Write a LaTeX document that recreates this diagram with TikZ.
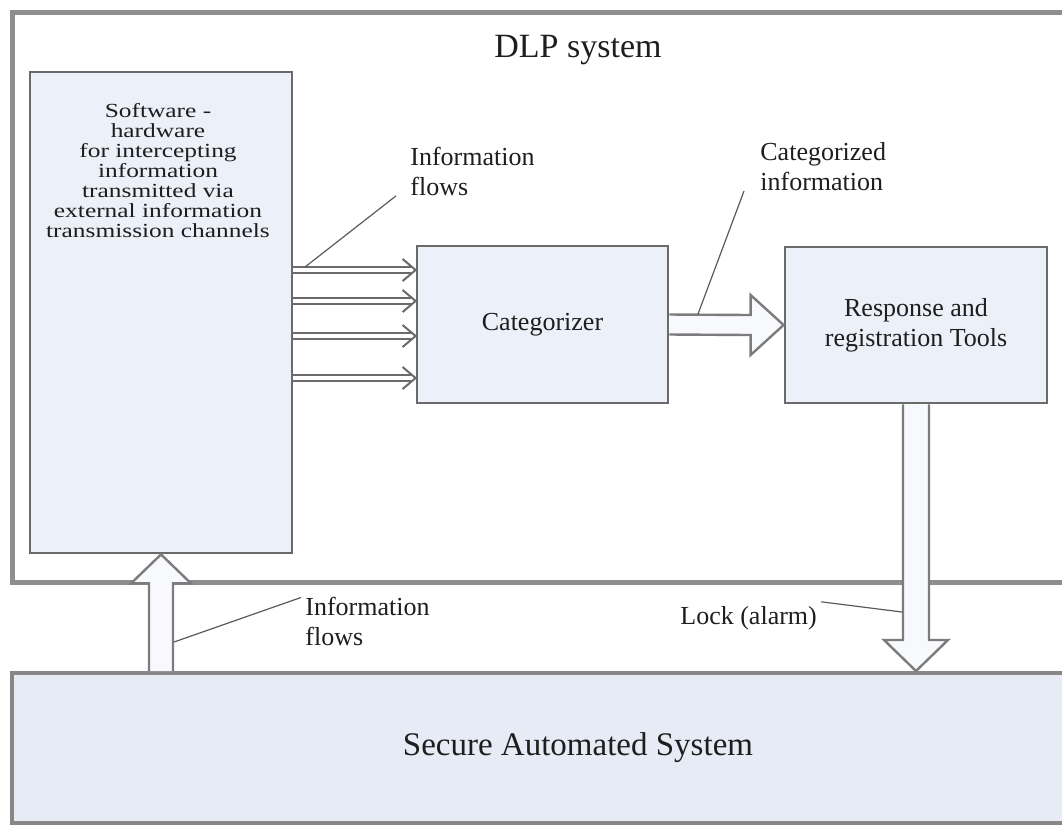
\documentclass[tikz,border=0pt]{standalone}
\usepackage{fontspec}
\setmainfont{Liberation Serif}
\newfontfamily\widefont[FakeStretch=1.27]{Liberation Serif}
\usetikzlibrary{calc}

\definecolor{framegray}{HTML}{8E8E8E}
\definecolor{boxgray}{HTML}{6A6A6A}
\definecolor{boxfill}{HTML}{ECF0F8}
\definecolor{securefill}{HTML}{E6EBF5}
\definecolor{arrowgray}{HTML}{7C7C7C}
\definecolor{leadgray}{HTML}{5A5A5A}
\definecolor{textgray}{HTML}{1E1E1E}

\tikzset{
  frame/.style={draw=framegray, line width=2.5pt, inner sep=0pt, text=textgray},
  block/.style={draw=boxgray, fill=boxfill, line width=1.4pt, inner sep=0pt,
    text=textgray, align=center, font=\fontsize{13}{15}\selectfont},
  flow/.style={draw=boxgray, double=white, double distance=2.3pt, line width=1pt},
  flowtip/.style={draw=boxgray, line width=1pt, line join=miter},
  bigflow/.style={draw=arrowgray, fill=white!60!boxfill, line width=1.2pt, line join=miter},
  leader/.style={draw=leadgray, line width=0.6pt},
  tag/.style={font=\fontsize{13}{15}\selectfont, text=textgray, align=left, inner sep=2pt},
}

\begin{document}
\begin{tikzpicture}[x=0.5pt, y=-0.5pt]

% Picture area, one unit is one pixel of the reference
\useasboundingbox (0,0) rectangle (1062,827);
\clip (0,0) rectangle (1062,827);

% Outer frames
\node[frame, minimum width=566pt, minimum height=285pt] (dlp) at (578,297) {};
\node[font=\fontsize{17}{20}\selectfont, text=textgray] (dlptitle) at (578,50) {DLP system};

\node[frame, draw=framegray!95!black, line width=2pt, fill=securefill,
      minimum width=566pt, minimum height=75pt, font=\fontsize{16.5}{20}\selectfont]
      (secure) at (578,748) {Secure Automated System};

% Blocks of the DLP system
\node[block, minimum width=131pt, minimum height=240.5pt] (intercept) at (161,312.5) {};
\node[font=\widefont\fontsize{10}{10}\selectfont, text=textgray, align=center, inner sep=0pt, anchor=north]
      (intercepttext) at (158,103)
      {Software -\\hardware\\for intercepting\\information\\transmitted via\\external information\\transmission channels};

\node[block, minimum width=125.5pt, minimum height=78.5pt] (categ) at (542.5,324.5) {Categorizer};
\node[block, minimum width=131pt, minimum height=78pt] (resp) at (916,325) {Response and\\registration Tools};

% Information flows into the categorizer (double lines with open heads)
\foreach \yy in {270,301,336,378}{
  \coordinate (flowtail) at (intercept.east |- 0,\yy);
  \coordinate (flowhead) at (categ.west |- 0,\yy);
  \draw[flow] (flowtail) -- ($(flowhead)+(-5,0)$);
  \draw[flowtip] ($(flowhead)+(-13,-11)$) -- (flowhead) -- ($(flowhead)+(-13,11)$);
}

% Categorized information
\draw[bigflow] ($(categ.east)+(0,-10)$) -- ($(resp.west)+(-33,-10)$) -- ($(resp.west)+(-33,-30)$)
  -- (resp.west) -- ($(resp.west)+(-33,30)$) -- ($(resp.west)+(-33,10)$) -- ($(categ.east)+(0,10)$);

% Lock (alarm)
\coordinate (locktip) at (resp.south |- secure.north);
\draw[bigflow] ($(resp.south)+(-13,0)$) -- ($(locktip)+(-13,-31)$) -- ($(locktip)+(-32,-31)$)
  -- (locktip) -- ($(locktip)+(32,-31)$) -- ($(locktip)+(13,-31)$) -- ($(resp.south)+(13,0)$);

% Information flows from the secure system
\coordinate (flowbase) at (intercept.south |- secure.north);
\draw[bigflow] ($(flowbase)+(-12,0)$) -- ($(intercept.south)+(-12,29)$) -- ($(intercept.south)+(-30,29)$)
  -- (intercept.south) -- ($(intercept.south)+(30,29)$) -- ($(intercept.south)+(12,29)$) -- ($(flowbase)+(12,0)$);

% Labels and their leader lines
\node[tag, anchor=north west] (flowtag) at (406,143) {Information\\flows};
\node[tag, anchor=north west] (cattag) at (756,138) {Categorized\\information};
\node[tag, anchor=north west] (flowtag2) at (301,593) {Information\\flows};
\node[tag, anchor=west] (locktag) at (676,618) {Lock (alarm)};

\coordinate (flowfoot) at (305,267);
\coordinate (catfoot) at (698,314);
\coordinate (flowfoot2) at (174,642);
\coordinate (lockfoot) at (902,612);

\draw[leader] (flowfoot) -- ([xshift=-5pt]flowtag.200);
\draw[leader] (catfoot) -- ([xshift=-6pt]cattag.200);
\draw[leader] (flowfoot2) -- (flowtag2.160);
\draw[leader] (locktag.north east) -- (lockfoot);

\end{tikzpicture}
\end{document}
